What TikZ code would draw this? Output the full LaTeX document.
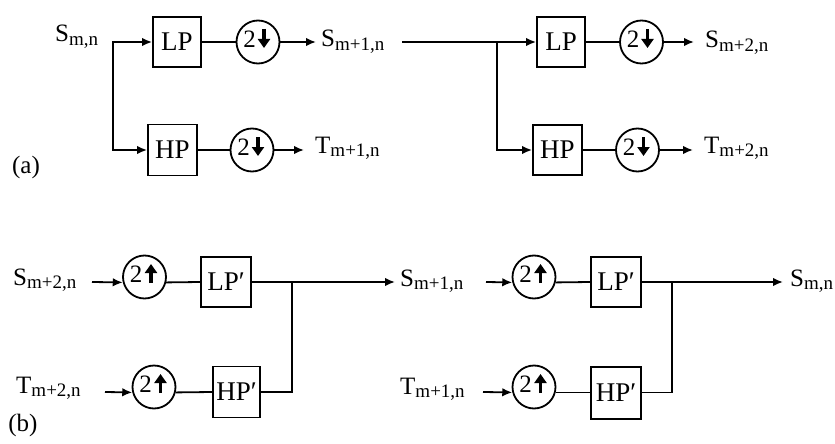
\documentclass[tikz,border=0pt]{standalone}
\usepackage{fontspec}
\setmainfont{Liberation Serif}
\usetikzlibrary{arrows.meta,calc}
% signal name with a lowered, smaller subscript
\newcommand{\sublab}[2]{#1\raisebox{-3.5pt}{\fontsize{19}{19}\selectfont #2}}

\begin{document}
\begin{tikzpicture}[x=1pt,y=-1pt,
  filterbox/.style={draw, line width=1.8pt, minimum width=48pt, minimum height=50pt,
                    inner sep=0pt, font=\fontsize{27}{31}\selectfont},
  sampler/.style={draw, circle, line width=1.8pt, minimum size=43pt, inner sep=0pt},
  conn/.style={line width=1.8pt},
  arr/.style={conn, -{Latex[length=10pt,width=8.5pt]}},
  dblarr/.style={conn, {Latex[length=10pt,width=8.5pt]}-{Latex[length=10pt,width=8.5pt]}},
  glyph/.style={line width=3.2pt, -{Triangle[length=9pt,width=12pt]}},
  sig/.style={anchor=base west, inner sep=0pt, font=\fontsize{25}{29}\selectfont},
  two/.style={inner sep=0pt, font=\fontsize{25}{29}\selectfont},
  tag/.style={inner sep=0pt, font=\fontsize{25}{29}\selectfont}]

\useasboundingbox (0,0) rectangle (835,444);

% ---------------- (a) analysis: two decomposition stages ----------------
\node[sig] (sA) at (55,42) {\sublab{S}{m,n}};
\coordinate (j1) at (113,42);
\node[filterbox] (lp1) at (177,42) {LP};
\node[filterbox, minimum width=49pt, minimum height=51pt] (hp1) at (172.5,150) {HP};
\node[sampler] (ds1) at (258,42) {};
\node[sampler] (ds2) at (252,150) {};
\coordinate (o1) at (316,42);
\coordinate (o2) at (304,150);
\node[sig] (sB) at (321,47) {\sublab{S}{m+1,n}};
\node[sig] (tB) at (315,153) {\sublab{T}{m+1,n}};

\draw[dblarr] (lp1.west) -- (j1) |- (hp1.west);
\draw[conn] (lp1) -- (ds1);
\draw[conn] (hp1) -- (ds2);
\draw[arr] (ds1) -- (o1);
\draw[arr] (ds2) -- (o2);

\coordinate (i2) at (402,42);
\coordinate (j2) at (497,42);
\node[filterbox] (lp3) at (561,42) {LP};
\node[filterbox, minimum width=49pt] (hp3) at (557.5,150) {HP};
\node[sampler] (ds3) at (641.5,42) {};
\node[sampler] (ds4) at (637.5,150) {};
\coordinate (o3) at (694,42);
\coordinate (o4) at (693,150);
\node[sig] (sC) at (705,48) {\sublab{S}{m+2,n}};
\node[sig] (tC) at (704,153) {\sublab{T}{m+2,n}};

\draw[arr] (i2) -- (lp3.west);
\draw[arr] (j2) |- (hp3.west);
\draw[conn] (lp3) -- (ds3);
\draw[conn] (hp3) -- (ds4);
\draw[arr] (ds3) -- (o3);
\draw[arr] (ds4) -- (o4);

% down-samplers: "2" and a bold down arrow
\foreach \n in {ds1,ds2,ds3,ds4}{
  \node[two] (\n-two) at ($(\n.center)+(-8.5,-3)$) {2};
  \draw[glyph] ($(\n.center)+(6,-13)$) -- ($(\n.center)+(6,6)$);
}

\node[tag] (ta) at (26,167) {(a)};

% ---------------- (b) synthesis: two reconstruction stages ----------------
\node[sig] (sD) at (13,285) {\sublab{S}{m+2,n}};
\node[sig] (tD) at (16,393) {\sublab{T}{m+2,n}};
\coordinate (i5) at (92,282);
\coordinate (i6) at (105,392);
\node[sampler] (us1) at (144.5,277) {};
\node[sampler] (us2) at (154,387) {};
\node[filterbox, minimum width=50pt] (lpp1) at (226,282) {LP′};
\node[filterbox, minimum width=47pt, minimum height=51pt] (hpp1) at (236.5,392) {HP′};
\coordinate (j3) at (292,282);
\coordinate (o5) at (395,282);

\draw[arr] (i5) -- (us1.194);
\draw[arr] (i6) -- (us2.194);
\draw[conn] (us1.346) -- (lpp1.west);
\draw[conn] (us2.346) -- (hpp1.west);
\draw[arr] (lpp1.east) -- (o5);
\draw[conn] (hpp1.east) -| (j3);

\node[sig] (sE) at (400,286) {\sublab{S}{m+1,n}};
\node[sig] (tE) at (400,394) {\sublab{T}{m+1,n}};
\coordinate (i7) at (486,282);
\coordinate (i8) at (483,392);
\node[sampler] (us3) at (534,277) {};
\node[sampler] (us4) at (534,387) {};
\node[filterbox, minimum width=50pt] (lpp2) at (616,282) {LP′};
\node[filterbox, minimum width=50pt, minimum height=52pt] (hpp2) at (616,393) {HP′};
\coordinate (j4) at (672,282);
\coordinate (o6) at (783,282);
\node[sig] (sF) at (790,286) {\sublab{S}{m,n}};

\draw[arr] (i7) -- (us3.194);
\draw[arr] (i8) -- (us4.194);
\draw[conn] (us3.346) -- (lpp2.west);
\draw[conn] (us4.346) -- (lpp2.west |- us4.346);
\draw[arr] (lpp2.east) -- (o6);
\draw[conn] (hpp2.east |- us4.346) -| (j4);

% up-samplers: "2" and a bold up arrow
\foreach \n in {us1,us2,us3,us4}{
  \node[two] (\n-two) at ($(\n.center)+(-8.5,-3)$) {2};
  \draw[glyph] ($(\n.center)+(6.5,6)$) -- ($(\n.center)+(6.5,-13)$);
}

\node[tag] (tb) at (23,425) {(b)};
\end{tikzpicture}
\end{document}
